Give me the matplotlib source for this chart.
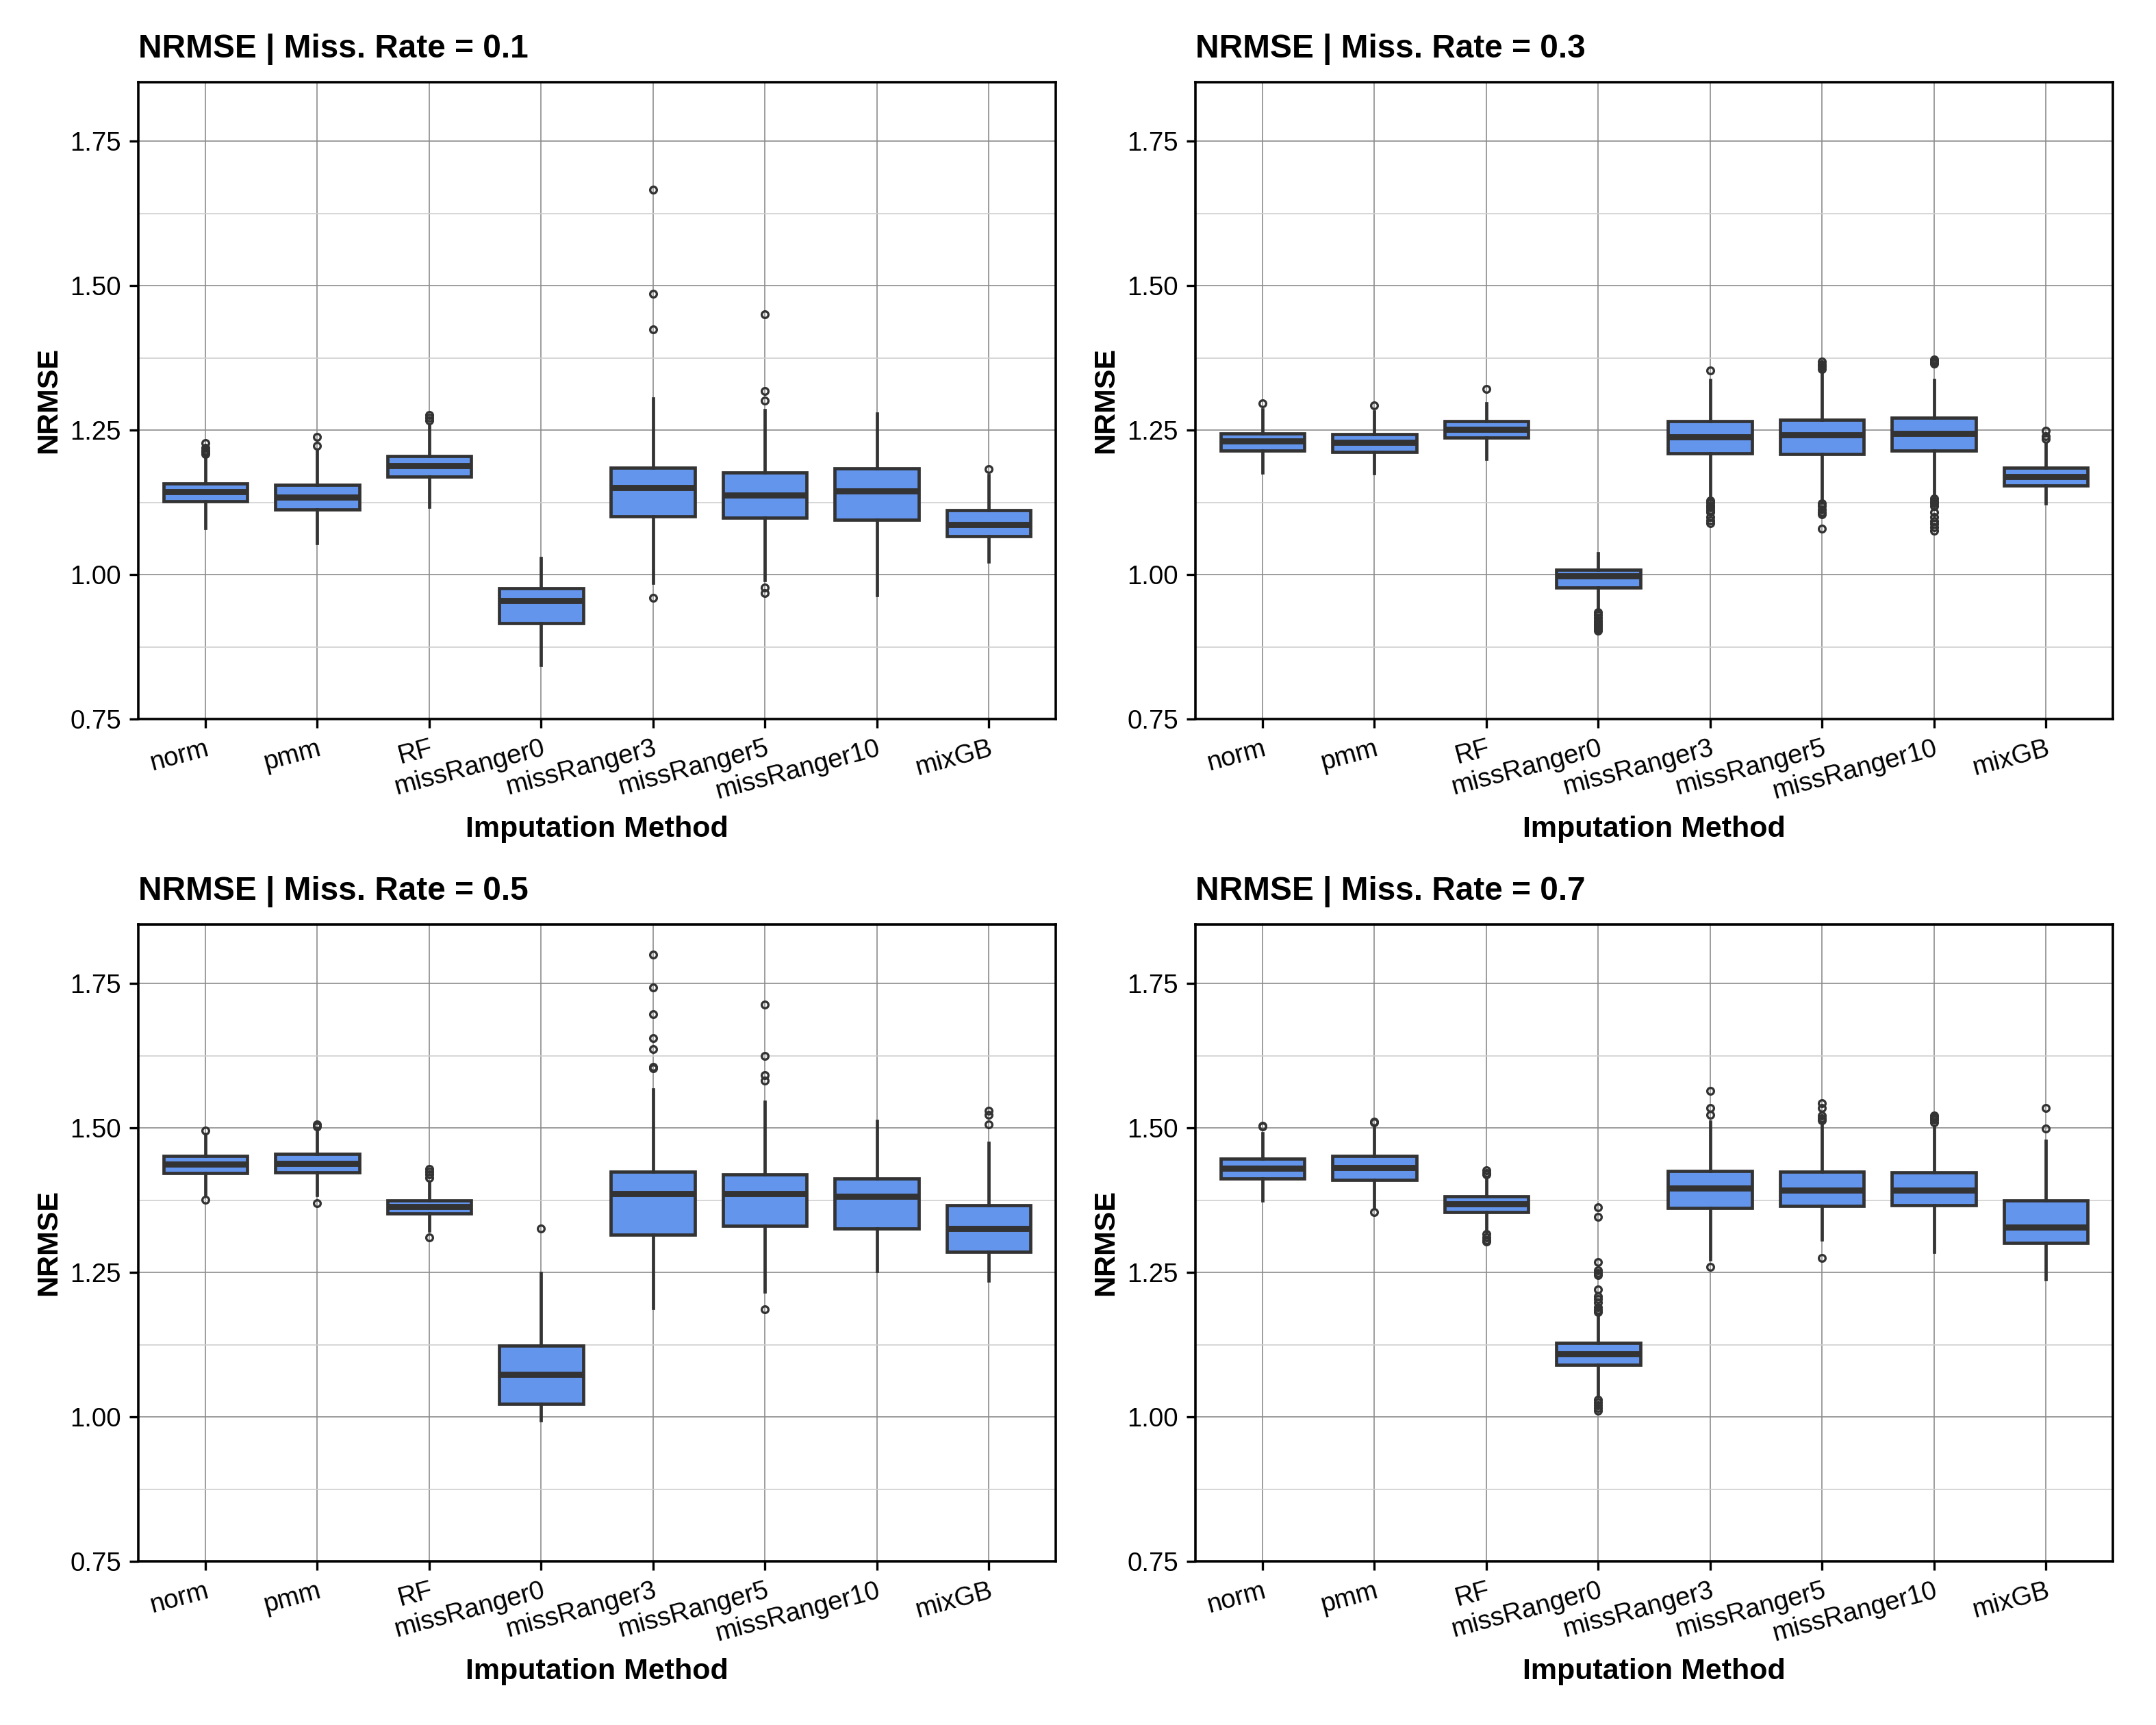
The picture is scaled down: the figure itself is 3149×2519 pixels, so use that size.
import numpy as np
import matplotlib
matplotlib.use("Agg")
from matplotlib import pyplot as plt
from matplotlib.ticker import MultipleLocator

plt.rcParams['font.family'] = ['Liberation Sans', 'DejaVu Sans']

methods = ['norm', 'pmm', 'RF', 'missRanger0', 'missRanger3',
           'missRanger5', 'missRanger10', 'mixGB']
rates = ['0.1', '0.3', '0.5', '0.7']

# box statistics, one list per rate
q1_01 = [1.127, 1.113, 1.170, 0.916, 1.101, 1.098, 1.095, 1.066]
med_01 = [1.143, 1.134, 1.188, 0.955, 1.150, 1.137, 1.144, 1.087]
q3_01 = [1.158, 1.155, 1.205, 0.976, 1.185, 1.176, 1.184, 1.111]
lo_01 = [1.081, 1.055, 1.117, 0.844, 0.986, 0.990, 0.965, 1.022]
hi_01 = [1.205, 1.216, 1.258, 1.028, 1.305, 1.285, 1.278, 1.172]
out_01 = [[1.209, 1.212, 1.215, 1.219, 1.227], [1.223, 1.238],
          [1.267, 1.271, 1.276], [], [0.960, 1.424, 1.486, 1.666],
          [0.968, 0.977, 1.301, 1.318, 1.450], [], [1.182]]

q1_03 = [1.215, 1.212, 1.237, 0.978, 1.210, 1.209, 1.215, 1.154]
med_03 = [1.231, 1.229, 1.251, 0.998, 1.238, 1.242, 1.244, 1.169]
q3_03 = [1.244, 1.243, 1.265, 1.008, 1.265, 1.268, 1.271, 1.185]
lo_03 = [1.177, 1.175, 1.200, 0.939, 1.130, 1.125, 1.134, 1.123]
hi_03 = [1.286, 1.282, 1.296, 1.037, 1.336, 1.355, 1.336, 1.226]
out_03 = [[1.296], [1.293], [1.321],
          [0.903, 0.906, 0.909, 0.912, 0.915, 0.918, 0.921, 0.925, 0.930, 0.935],
          [1.089, 1.094, 1.100, 1.108, 1.112, 1.116, 1.120, 1.124, 1.128, 1.353],
          [1.079, 1.104, 1.108, 1.113, 1.118, 1.123, 1.356, 1.360, 1.364, 1.368],
          [1.076, 1.082, 1.088, 1.093, 1.100, 1.108, 1.118, 1.123, 1.127, 1.131,
           1.365, 1.369, 1.372],
          [1.235, 1.239, 1.249]]

q1_05 = [1.422, 1.423, 1.352, 1.022, 1.315, 1.331, 1.326, 1.286]
med_05 = [1.437, 1.439, 1.364, 1.074, 1.386, 1.386, 1.382, 1.326]
q3_05 = [1.451, 1.455, 1.375, 1.123, 1.424, 1.420, 1.412, 1.366]
lo_05 = [1.384, 1.384, 1.322, 0.994, 1.189, 1.217, 1.252, 1.236]
hi_05 = [1.489, 1.496, 1.406, 1.249, 1.567, 1.545, 1.512, 1.474]
out_05 = [[1.376, 1.495], [1.370, 1.503, 1.506],
          [1.311, 1.414, 1.420, 1.424, 1.429], [1.326],
          [1.603, 1.606, 1.636, 1.655, 1.697, 1.743, 1.800],
          [1.186, 1.582, 1.591, 1.624, 1.713], [], [1.506, 1.522, 1.530]]

q1_07 = [1.412, 1.410, 1.354, 1.090, 1.361, 1.365, 1.366, 1.301]
med_07 = [1.430, 1.431, 1.369, 1.109, 1.396, 1.392, 1.392, 1.328]
q3_07 = [1.447, 1.451, 1.382, 1.128, 1.426, 1.424, 1.423, 1.374]
lo_07 = [1.374, 1.361, 1.320, 1.035, 1.273, 1.307, 1.286, 1.238]
hi_07 = [1.491, 1.500, 1.414, 1.178, 1.511, 1.506, 1.502, 1.477]
out_07 = [[1.502, 1.504], [1.354, 1.509, 1.511],
          [1.303, 1.306, 1.311, 1.316, 1.420, 1.422, 1.427],
          [1.011, 1.015, 1.020, 1.025, 1.030, 1.181, 1.185, 1.190, 1.198, 1.204,
           1.209, 1.220, 1.245, 1.249, 1.254, 1.268, 1.346, 1.363],
          [1.259, 1.522, 1.535, 1.564], [1.275, 1.513, 1.517, 1.521, 1.534, 1.543],
          [1.510, 1.514, 1.518, 1.521], [1.499, 1.535]]

panels = [(q1_01, med_01, q3_01, lo_01, hi_01, out_01),
          (q1_03, med_03, q3_03, lo_03, hi_03, out_03),
          (q1_05, med_05, q3_05, lo_05, hi_05, out_05),
          (q1_07, med_07, q3_07, lo_07, hi_07, out_07)]

fill = '#6495ED'
edge = '#333333'

fig = plt.figure(figsize=(15.745, 12.595), dpi=200)
W, H = 3149, 2519
lefts = [202, 1746]
tops = [120, 1350]
aw, ah = 1340, 930

for i, (q1, med, q3, lo, hi, out) in enumerate(panels):
    r, c = divmod(i, 2)
    ax = fig.add_axes([lefts[c] / W, 1 - (tops[r] + ah) / H, aw / W, ah / H])
    stats = []
    for k in range(len(methods)):
        stats.append(dict(q1=q1[k], med=med[k], q3=q3[k], whislo=lo[k],
                          whishi=hi[k], fliers=out[k], label=methods[k]))
    ax.bxp(stats, positions=np.arange(len(methods)), widths=0.75,
           patch_artist=True, showcaps=False,
           boxprops=dict(facecolor=fill, edgecolor=edge, linewidth=1.7),
           medianprops=dict(color=edge, linewidth=3.2, solid_capstyle='butt'),
           whiskerprops=dict(color=edge, linewidth=1.7),
           flierprops=dict(marker='o', markersize=3.5, markerfacecolor='none',
                           markeredgecolor=edge, markeredgewidth=1.2),
           zorder=3)

    ax.set_xlim(-0.6, 7.6)
    ax.set_ylim(0.75, 1.852)
    ax.yaxis.set_major_locator(MultipleLocator(0.25))
    ax.yaxis.set_minor_locator(MultipleLocator(0.125))
    ax.yaxis.set_major_formatter(matplotlib.ticker.FormatStrFormatter('%.2f'))
    ax.grid(True, which='major', color='#8c8c8c', linewidth=0.6, zorder=0)
    ax.grid(True, which='minor', axis='y', color='#d0d0d0', linewidth=0.6, zorder=0)
    ax.set_axisbelow(True)
    ax.tick_params(which='minor', length=0)
    ax.tick_params(which='major', length=4.7, width=1.2, pad=4.3,
                   color='black', labelsize=13.8)
    ax.set_xticks(np.arange(len(methods)))
    ax.set_xticklabels(methods, rotation=15, ha='right', rotation_mode='anchor')
    for s in ax.spines.values():
        s.set_linewidth(1.3)
        s.set_color('black')

    ax.set_title('NRMSE | Miss. Rate = ' + rates[i], loc='left',
                 fontsize=17.2, fontweight='bold', pad=13)
    ax.set_ylabel('NRMSE', fontsize=15.5, fontweight='bold')
    ax.yaxis.set_label_coords(-0.083, 0.5)
    ax.set_xlabel('Imputation Method', fontsize=15.5, fontweight='bold')
    ax.xaxis.set_label_coords(0.5, -0.152)

fig.savefig('out.png', dpi=200)
